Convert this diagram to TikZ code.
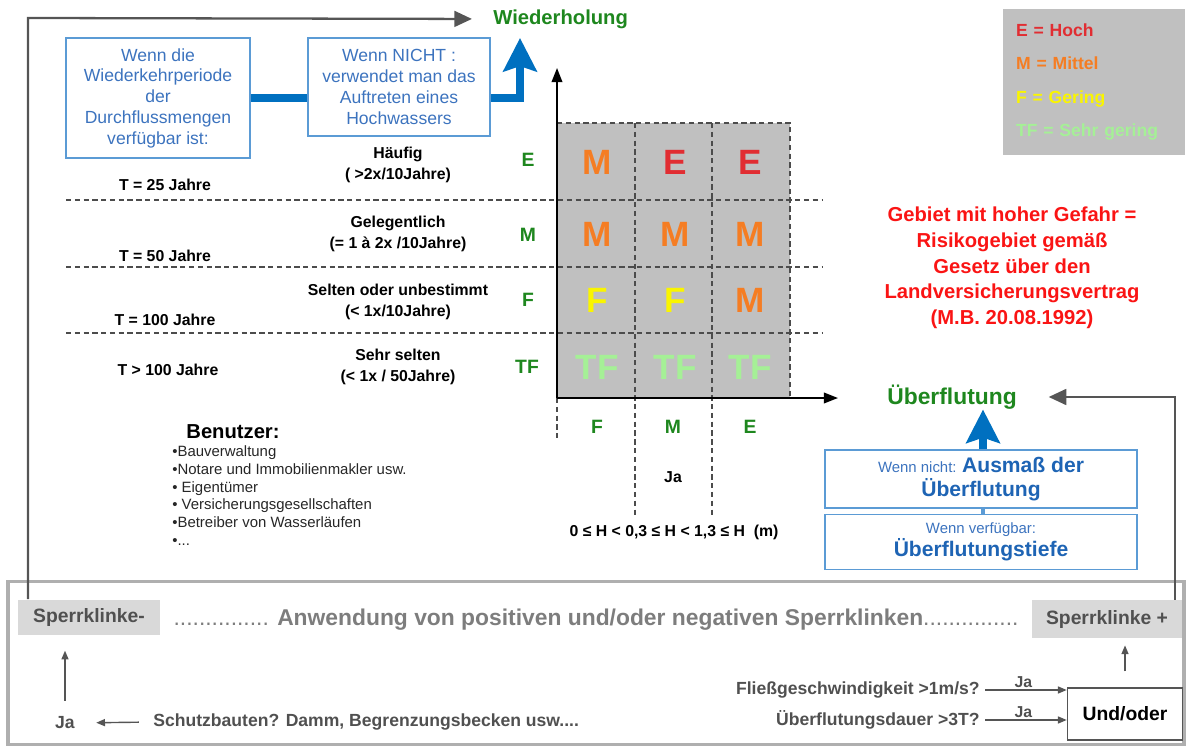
\documentclass[tikz,border=0pt]{standalone}
\usepackage{fontspec}
\setmainfont{Liberation Sans}
\usepackage{tikz}
\usetikzlibrary{arrows.meta, positioning, calc}

\definecolor{RiskGreen}{RGB}{30, 135, 30}
\definecolor{RiskRed}{RGB}{225, 45, 50}
\definecolor{RiskOrange}{RGB}{245, 125, 35}
\definecolor{RiskYellow}{RGB}{250, 245, 0}
\definecolor{RiskPale}{RGB}{165, 240, 150}
\definecolor{AlertRed}{RGB}{250, 20, 20}
\definecolor{CellGrey}{RGB}{192, 192, 192}
\definecolor{TagGrey}{RGB}{217, 217, 217}
\definecolor{FrameGrey}{RGB}{175, 175, 175}
\definecolor{LineGrey}{RGB}{85, 85, 85}
\definecolor{DarkGrey}{RGB}{80, 80, 80}
\definecolor{MidGrey}{RGB}{125, 125, 125}
\definecolor{BoxBlue}{RGB}{91, 155, 213}
\definecolor{TextBlue}{RGB}{60, 115, 190}
\definecolor{DeepBlue}{RGB}{30, 100, 180}
\definecolor{ArrowBlue}{RGB}{0, 112, 192}

\newcommand{\fs}[2]{\fontsize{#1}{#2}\selectfont}

\begin{document}
\begin{tikzpicture}[x=0.02cm, y=-0.02cm,
    every node/.style={inner sep=0pt},
    bluebox/.style={draw=BoxBlue, line width=1pt, text=TextBlue, align=center},
    rowtext/.style={font=\fs{9}{12}\bfseries, align=center},
    tlabel/.style={font=\fs{9}{11}\bfseries},
    level/.style={text=RiskGreen, font=\fs{11}{13}\bfseries},
    cell/.style={font=\fs{20}{22}\bfseries},
    griddash/.style={densely dashed, line width=0.7pt, black!70},
    greyline/.style={draw=LineGrey, line width=1.3pt, -{Triangle[length=10pt,width=9pt]}},
    thinarrow/.style={draw=LineGrey, line width=0.8pt, -{Triangle[length=5pt,width=4pt]}},
    bigblue/.style={draw=ArrowBlue, line width=5pt, -{Stealth[length=19pt,width=19pt,inset=3pt]}},
    tag/.style={fill=TagGrey, text=DarkGrey, font=\fs{11}{13}\bfseries}]

\useasboundingbox (0,0) rectangle (1192,753);

% Grid of classes
\fill[CellGrey] (557,123) rectangle (790,398);
\foreach \y in {200,267,333}
    \draw[griddash] (66,\y) -- (822,\y);
\draw[griddash] (557,123) -- (790,123) -- (790,398);
\foreach \x in {635,712}
    \draw[griddash] (\x,123) -- (\x,515);
\draw[griddash] (557,398) -- (557,440);

\foreach \x/\y/\t/\c [count=\i] in {597/162/M/RiskOrange, 675/162/E/RiskRed, 750/162/E/RiskRed,
    597/234/M/RiskOrange, 675/234/M/RiskOrange, 750/234/M/RiskOrange,
    597/300/F/RiskYellow, 675/300/F/RiskYellow, 750/300/M/RiskOrange,
    597/367/TF/RiskPale, 675/367/TF/RiskPale, 750/367/TF/RiskPale}
    \node[cell, text=\c] (cell\i) at (\x,\y) {\t};

% Axes
\coordinate (origin) at (557,398);
\coordinate (ytip) at (557,68);
\coordinate (xtip) at (838,398);
\draw[line width=1.1pt, -{Triangle[length=8pt,width=6pt]}] (origin) -- (ytip);
\draw[line width=1.1pt, -{Triangle[length=8pt,width=6pt]}] (origin) -- (xtip);

\node[text=RiskGreen, font=\fs{11.5}{13}\bfseries, anchor=west] (wied) at (493,19) {Wiederholung};
\node[text=RiskGreen, font=\fs{13}{15}\bfseries] (ueber) at (952,397) {Überflutung};

% Row labels
\node[level] (lvE) at (528,160) {E};
\node[level] (lvM) at (528,235) {M};
\node[level] (lvF) at (528,300) {F};
\node[level] (lvTF) at (527,367) {TF};

\node[rowtext] (freq1) at (398,165) {Häufig\\( >2x/10Jahre)};
\node[rowtext] (freq2) at (398,234) {Gelegentlich\\(= 1 à 2x /10Jahre)};
\node[rowtext] (freq3) at (398,302) {Selten oder unbestimmt\\(< 1x/10Jahre)};
\node[rowtext] (freq4) at (398,367) {Sehr selten\\(< 1x / 50Jahre)};

\node[tlabel] (t25) at (165,185) {T = 25 Jahre};
\node[tlabel] (t50) at (165,256) {T = 50 Jahre};
\node[tlabel] (t100) at (165,320) {T = 100 Jahre};
\node[tlabel] (tmore) at (168,370) {T > 100 Jahre};

% Column labels
\node[level] (colF) at (597,427) {F};
\node[level] (colM) at (673,427) {M};
\node[level] (colE) at (750,427) {E};
\node[tlabel] (ja) at (673,477) {Ja};
\node[font=\fs{9}{11}\bfseries] (depth) at (674,532) {0 ≤ H < 0,3 ≤ H < 1,3 ≤ H \ (m)};

% Blue boxes, top left
\node[bluebox, font=\fs{10}{11.8}, minimum width=3.68cm, minimum height=2.4cm] (box1) at (158,98)
    {Wenn die\\Wiederkehrperiode\\der\\Durchflussmengen\\verfügbar ist:};
\node[bluebox, font=\fs{10}{11.8}, minimum width=3.64cm, minimum height=1.96cm] (box2) at (399,87)
    {Wenn NICHT :\\verwendet man das\\Auftreten eines\\Hochwassers};
\coordinate (wtip) at (520,38);
\draw[ArrowBlue, line width=5pt] (box1.east) -- (box2.west |- box1.east);
\draw[bigblue] (box2.east |- box1.east) -| (wtip);

% Legend
\node[fill=CellGrey, minimum width=3.64cm, minimum height=2.94cm, text width=3.12cm,
    align=left, font=\fs{10}{18.8}\bfseries] (legend) at (1094,82)
    {\color{RiskRed}E = Hoch\\\color{RiskOrange}M = Mittel\\\color{RiskYellow}F = Gering\\\color{RiskPale}TF = Sehr gering};

\node[text=AlertRed, align=center, font=\fs{11.5}{14.6}\bfseries] (alert) at (1012,268)
    {Gebiet mit hoher Gefahr =\\Risikogebiet gemäß\\Gesetz über den\\Landversicherungsvertrag\\(M.B. 20.08.1992)};

% Blue boxes, right
\node[bluebox, minimum width=6.24cm, minimum height=1.16cm, font=\fs{12}{13.6}\bfseries, text=DeepBlue] (box3) at (981,479)
    {{\fs{8.5}{10}\mdseries\color{TextBlue}Wenn nicht: }Ausmaß der\\Überflutung};
\node[bluebox, minimum width=6.24cm, minimum height=1.1cm, font=\fs{12}{13}\bfseries, text=DeepBlue] (box4) at (981,542)
    {{\fs{8.5}{10}\mdseries\color{TextBlue}Wenn verfügbar:}\\Überflutungstiefe};
\draw[BoxBlue, line width=2pt] (box4.north -| 983,0) -- (box3.south -| 983,0);
\draw[bigblue] (box3.north -| 983,0) -- (ueber.south -| 983,0);

% Users
\node[font=\fs{11.5}{13}\bfseries] (users) at (233,432) {Benutzer:};
\node[anchor=north west, align=left, font=\fs{8.5}{10.2}, text=black!85] (userlist) at (172,445)
    {•Bauverwaltung\\•Notare und Immobilienmakler usw.\\• Eigentümer\\• Versicherungsgesellschaften\\•Betreiber von Wasserläufen\\•...};

% Bottom frame
\node[draw=FrameGrey, line width=2pt, minimum width=23.52cm, minimum height=3.26cm] (frame) at (596,663) {};
\node[tag, minimum width=2.84cm, minimum height=0.7cm] (sminus) at (89,617) {Sperrklinke-};
\node[tag, minimum width=3cm, minimum height=0.76cm] (splus) at (1107,619) {Sperrklinke +};
\node[text=MidGrey, font=\fs{13}{15}\bfseries] (apply) at (596,620)
    {{\mdseries...............} Anwendung von positiven und/oder negativen Sperrklinken{\mdseries...............}};

\node[text=DarkGrey, font=\fs{10}{12}\bfseries] (jaL) at (65,723) {Ja};
\node[text=DarkGrey, font=\fs{10}{12}\bfseries, anchor=west] (schutz) at (153,722)
    {Schutzbauten? Damm, Begrenzungsbecken usw....};
\node[text=DarkGrey, font=\fs{10}{12}\bfseries, anchor=east] (fliess) at (980,690) {Fließgeschwindigkeit >1m/s?};
\node[text=DarkGrey, font=\fs{10}{12}\bfseries, anchor=east] (dauer) at (980,720) {Überflutungsdauer >3T?};
\node[draw=LineGrey, line width=0.9pt, minimum width=2.3cm, minimum height=1.04cm,
    font=\fs{11}{13}\bfseries] (undoder) at (1125,714) {Und/oder};

% Connectors
\draw[thinarrow, shorten <=8pt, shorten >=12pt] (schutz.west) -- (jaL.east);
\draw[thinarrow, shorten <=9pt, shorten >=9pt] (jaL.north) -- (sminus.south -| jaL.north);
\draw[thinarrow, shorten <=3pt] (fliess.east) -- node[above=1pt, font=\fs{9}{11}\bfseries, text=DarkGrey] (ja1) {Ja} (undoder.west |- fliess.east);
\draw[thinarrow, shorten <=3pt] (dauer.east) -- node[above=1pt, font=\fs{9}{11}\bfseries, text=DarkGrey] (ja2) {Ja} (undoder.west |- dauer.east);
\draw[thinarrow, shorten <=9pt, shorten >=4pt] (undoder.north) -- (splus.south -| undoder.north);

\coordinate (lftop) at (28,18);
\coordinate (rtcorner) at (1175,397);
\draw[greyline, shorten >=12pt] (sminus.north -| lftop) -- (lftop) -- (wied.west);
\draw[greyline, shorten >=18pt] (splus.north -| rtcorner) -- (rtcorner) -- (ueber.east);
\end{tikzpicture}
\end{document}
